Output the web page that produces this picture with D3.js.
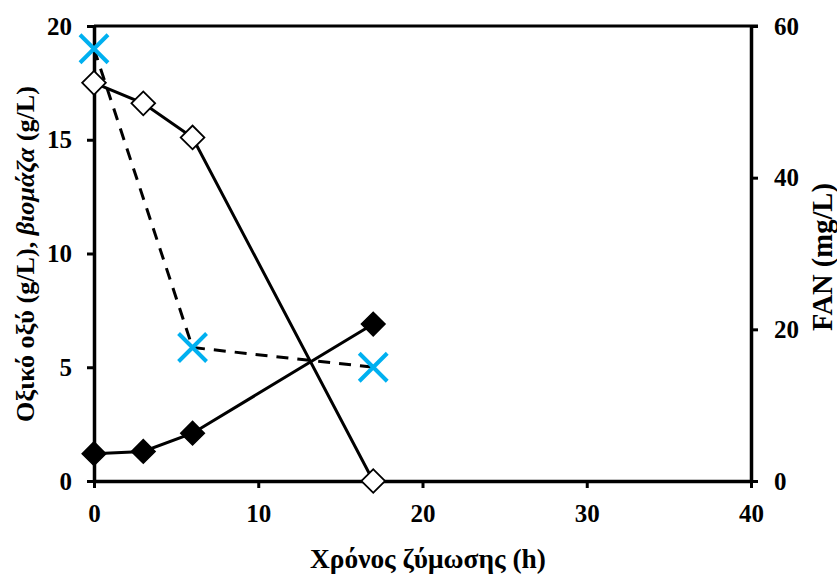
<!DOCTYPE html>
<html>
<head>
<meta charset="utf-8">
<script src="https://cdn.jsdelivr.net/npm/d3@7"></script>
<style>
  body { margin: 0; background: #fff; }
  svg text { font-family: "Liberation Serif", "Times New Roman", serif; font-weight: bold; fill: #000; }
</style>
</head>
<body>
<div id="container"></div>
<script>
const width = 837,
  height = 574,
  margin = { top: 26, bottom: 93, left: 94, right: 86 };

// data
const time = [0, 3, 6, 17];
const aceticAcid = [17.5, 16.6, 15.1, 0];   // open diamonds, left axis
const biomass = [1.2, 1.3, 2.1, 6.9];        // filled diamonds, left axis
const fanTime = [0, 6, 17];
const fan = [57, 17.6, 15];                  // blue crosses, right axis (mg/L)

const xTicks = [0, 10, 20, 30, 40];
const yLeftTicks = [0, 5, 10, 15, 20];
const yRightTicks = [0, 20, 40, 60];

const svg = d3.select("#container")
  .append("svg")
  .attr("width", width)
  .attr("height", height)

const xScale = d3.scaleLinear()
  .domain([0, 40])
  .range([margin.left, width - margin.right])

const yScale = d3.scaleLinear()
  .domain([0, 20])
  .range([height - margin.bottom, margin.top])

const y2Scale = d3.scaleLinear()
  .domain([0, 60])
  .range([height - margin.bottom, margin.top])

// top frame line
svg.append("line")
  .attr("x1", margin.left)
  .attr("x2", width - margin.right + 7)
  .attr("y1", margin.top)
  .attr("y2", margin.top)
  .attr("stroke", "black")
  .attr("stroke-width", 3)

// + AXES
const styleAxis = g => {
  g.selectAll("path").attr("stroke-width", 3.5)
  g.selectAll("line").attr("stroke-width", 3)
  g.selectAll("text").style("font-size", "25px")
}

svg.append("g")
  .attr("transform", `translate(0, ${height - margin.bottom})`)
  .call(d3.axisBottom(xScale).tickValues(xTicks).tickSize(7).tickSizeOuter(0).tickPadding(16))
  .call(styleAxis)

svg.append("g")
  .attr("transform", `translate(${margin.left}, 0)`)
  .call(d3.axisLeft(yScale).tickValues(yLeftTicks).tickSize(7).tickSizeOuter(0).tickPadding(15))
  .call(styleAxis)

svg.append("g")
  .attr("transform", `translate(${width - margin.right}, 0)`)
  .call(d3.axisRight(y2Scale).tickValues(yRightTicks).tickSize(7).tickSizeOuter(0).tickPadding(16))
  .call(styleAxis)

// scale a label's font so that it spans the wanted length
function fitText(text, target) {
  const len = text.node().getComputedTextLength()
  const size = parseFloat(text.style("font-size"))
  text.style("font-size", `${size * target / len}px`)
}

// axis titles
const xLabel = svg.append("text")
  .attr("x", 428)
  .attr("y", 568)
  .attr("text-anchor", "middle")
  .style("font-size", "24px")
  .text("Χρόνος ζύμωσης (h)")
fitText(xLabel, 236)

const yLabel = svg.append("text")
  .attr("transform", `translate(34, 254) rotate(-90)`)
  .attr("text-anchor", "middle")
  .style("font-size", "24px")
yLabel.append("tspan").text("Οξικό οξύ (g/L), ")
yLabel.append("tspan").style("font-style", "italic").text("βιομάζα")
yLabel.append("tspan").text(" (g/L)")
fitText(yLabel, 336)

const y2Label = svg.append("text")
  .attr("transform", `translate(832, 257) rotate(-90)`)
  .attr("text-anchor", "middle")
  .style("font-size", "24px")
  .text("FAN (mg/L)")
fitText(y2Label, 148)

// + LINES
const lineLeft = d3.line()
  .x((d, i) => xScale(time[i]))
  .y(d => yScale(d))

svg.append("path")
  .attr("d", d3.line().x((d, i) => xScale(fanTime[i])).y(d => y2Scale(d))(fan))
  .attr("fill", "none")
  .attr("stroke", "black")
  .attr("stroke-width", 3)
  .attr("stroke-dasharray", "12,9")

svg.append("path")
  .attr("d", lineLeft(aceticAcid))
  .attr("fill", "none")
  .attr("stroke", "black")
  .attr("stroke-width", 3)

svg.append("path")
  .attr("d", lineLeft(biomass))
  .attr("fill", "none")
  .attr("stroke", "black")
  .attr("stroke-width", 3)

// + MARKERS
const diamond = d3.symbol().type(d3.symbolSquare).size(280)

svg.selectAll(".biomass")
  .data(biomass)
  .join("path")
  .attr("class", "biomass")
  .attr("d", diamond)
  .attr("transform", (d, i) => `translate(${xScale(time[i])}, ${yScale(d)}) rotate(45)`)
  .attr("fill", "black")
  .attr("stroke", "black")
  .attr("stroke-width", 1.5)

svg.selectAll(".acetic")
  .data(aceticAcid)
  .join("path")
  .attr("class", "acetic")
  .attr("d", diamond)
  .attr("transform", (d, i) => `translate(${xScale(time[i])}, ${yScale(d)}) rotate(45)`)
  .attr("fill", "white")
  .attr("stroke", "black")
  .attr("stroke-width", 1.8)

// blue crosses for FAN
const r = 14
svg.selectAll(".fan")
  .data(fan)
  .join("path")
  .attr("class", "fan")
  .attr("d", (d, i) => {
    const cx = xScale(fanTime[i]), cy = y2Scale(d)
    return `M${cx - r},${cy - r}L${cx + r},${cy + r}M${cx - r},${cy + r}L${cx + r},${cy - r}`
  })
  .attr("fill", "none")
  .attr("stroke", "#00B0F0")
  .attr("stroke-width", 4)
</script>
</body>
</html>
